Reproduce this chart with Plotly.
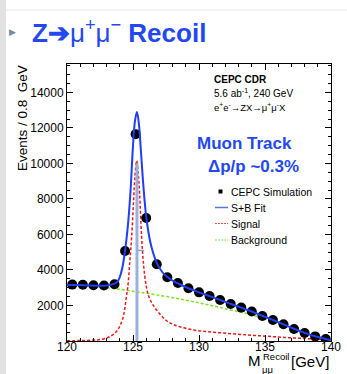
import plotly.graph_objects as go

# ---------------- data ----------------
bin_centers = [120.4, 121.2, 122.0, 122.8, 123.6, 124.4, 125.2, 126.0, 126.8, 127.6,
               128.4, 129.2, 130.0, 130.8, 131.6, 132.4, 133.2, 134.0, 134.8, 135.6,
               136.4, 137.2, 138.0, 138.8, 139.6]
events = [3175, 3170, 3140, 3130, 3200, 5070, 11650, 6930, 4320, 3590,
          3270, 2970, 2740, 2530, 2310, 2080, 1880, 1660, 1410, 1180,
          940, 680, 450, 260, 110]

fit_x = [120.0, 121.0, 122.0, 122.5, 123.0, 123.5, 123.8, 124.0, 124.2, 124.4,
         124.6, 124.8, 125.0, 125.15, 125.3, 125.45, 125.6, 125.8, 126.0, 126.2,
         126.4, 126.8, 127.2, 127.6, 128.0, 128.4, 129.2, 130.0, 130.8, 131.6,
         132.4, 133.2, 134.0, 134.8, 135.6, 136.4, 137.2, 138.0, 138.8, 139.6, 140.0]
fit_y = [3150, 3150, 3120, 3110, 3120, 3200, 3320, 3600, 4150, 5100,
         6400, 8300, 11000, 12400, 12900, 12200, 10700, 8600, 7000, 6000,
         5300, 4400, 3900, 3600, 3400, 3250, 2970, 2740, 2530, 2310,
         2090, 1880, 1660, 1420, 1180, 940, 690, 460, 270, 110, 40]

sig_x = [120.0, 121.0, 122.0, 122.5, 123.0, 123.3, 123.6, 123.9, 124.1, 124.3,
         124.5, 124.6, 124.75, 124.9, 125.05, 125.15, 125.28, 125.4, 125.5, 125.65,
         125.8, 126.0, 126.2, 126.5, 127.0, 127.5, 128.0, 128.6, 129.6, 130.5,
         131.5, 132.5, 133.5, 134.5, 135.5, 136.5, 137.5, 138.5, 139.5, 140.0]
sig_y = [15, 25, 50, 80, 170, 270, 420, 700, 1000, 1500,
         2500, 3000, 4400, 5900, 8000, 9300, 10150, 9400, 8300, 5900,
         4300, 3100, 2500, 2050, 1550, 1170, 950, 790, 620, 540,
         470, 410, 350, 300, 250, 200, 160, 120, 80, 60]

bkg_x = [120, 121, 122, 123, 124, 125, 126, 127, 128, 129, 130,
         131, 132, 133, 134, 135, 136, 137, 138, 139, 140]
bkg_y = [3150, 3120, 3070, 3000, 2910, 2800, 2690, 2570, 2440, 2300, 2150,
         1990, 1820, 1650, 1480, 1220, 1000, 760, 500, 260, 50]

higgs_mass = 125.3
higgs_line_top = 10000
err_tick_y = 5100
err_tick_x_end = 125.85

x_ticks = [120, 125, 130, 135, 140]
y_ticks = [2000, 4000, 6000, 8000, 10000, 12000, 14000]

# ---------------- figure ----------------
W, H = 347, 374
L, R, T, B = 67, 16, 64, 33
PW, PH = W - L - R, H - T - B

def px(x):
    return (x - L) / PW

def py(y):
    return (H - B - y) / PH

BLUE_TXT = "#2448f0"
FONT = "Liberation Sans, Arial, sans-serif"

fig = go.Figure()

fig.add_trace(go.Scatter(x=bkg_x, y=bkg_y, mode="lines", line_shape="spline",
                         line=dict(color="#7ee020", width=1.5, dash="3px,2px"),
                         showlegend=False, hoverinfo="skip"))
fig.add_trace(go.Scatter(x=sig_x, y=sig_y, mode="lines", line_shape="spline",
                         line=dict(color="#e51a1a", width=1.5, dash="3px,2px"),
                         showlegend=False, hoverinfo="skip"))
fig.add_trace(go.Scatter(x=[higgs_mass, higgs_mass], y=[0, higgs_line_top], mode="lines",
                         line=dict(color="#9cb0dc", width=3),
                         showlegend=False, hoverinfo="skip"))
fig.add_trace(go.Scatter(x=[higgs_mass, err_tick_x_end], y=[err_tick_y, err_tick_y], mode="lines",
                         line=dict(color="#8fa3cf", width=1.5),
                         showlegend=False, hoverinfo="skip"))
fig.add_trace(go.Scatter(x=bin_centers, y=events, mode="markers",
                         marker=dict(color="black", size=10),
                         showlegend=False))
fig.add_trace(go.Scatter(x=fit_x, y=fit_y, mode="lines", line_shape="spline",
                         line=dict(color="#1f3ff0", width=2),
                         showlegend=False, hoverinfo="skip"))

axis_common = dict(showline=True, linecolor="black", linewidth=1, mirror="ticks",
                   ticks="inside", ticklen=6, tickcolor="black", showgrid=False,
                   zeroline=False, tickfont=dict(family=FONT, size=12, color="black"))

fig.update_xaxes(range=[120, 140], tickvals=x_ticks, ticktext=[str(v) for v in x_ticks],
                 minor=dict(ticks="inside", ticklen=3, dtick=1, tickcolor="black"),
                 ticklabelstandoff=-5, **axis_common)
fig.update_yaxes(range=[0, 15600], tickvals=y_ticks, ticktext=[str(v) for v in y_ticks],
                 minor=dict(ticks="inside", ticklen=3, dtick=500, tickcolor="black"),
                 **axis_common)

ann = []
def text(x, y, s, size, color="black", bold=False, xanchor="left", angle=0, family=FONT):
    ann.append(dict(x=px(x), y=py(y), xref="paper", yref="paper", text=(f"<b>{s}</b>" if bold else s),
                    showarrow=False, xanchor=xanchor, yanchor="middle", textangle=angle,
                    font=dict(family=family, size=size, color=color)))

# title
text(12, 32, "▶", 9, color="#7a88aa", xanchor="center")
text(30, 31, "<b>Z➔</b>μ<sup>+</sup>μ<sup>−</sup><b> Recoil</b>", 26, color=BLUE_TXT)

# info text
text(212, 79, "CEPC CDR", 10, bold=True)
text(212, 93, "5.6 ab<sup>-1</sup>, 240 GeV", 10)
text(212, 107, "e<sup>+</sup>e<sup>-</sup>→ZX→μ<sup>+</sup>μ<sup>-</sup>X", 9.5)
text(244, 143, "Muon Track", 17, color=BLUE_TXT, bold=True, xanchor="center")
text(253, 166, "Δp/p ~0.3%", 17, color=BLUE_TXT, bold=True, xanchor="center")

# legend (manual)
leg_rows = [("CEPC Simulation", 191.5), ("S+B Fit", 207.5), ("Signal", 223.5), ("Background", 240)]
for label, yy in leg_rows:
    text(229, yy, label, 10.5)

shapes = []
shapes.append(dict(type="rect", xref="paper", yref="paper",
                   x0=px(218.5), x1=px(222.5), y0=py(193.5), y1=py(189.5),
                   fillcolor="black", line=dict(width=0)))
shapes.append(dict(type="line", xref="paper", yref="paper", x0=px(215), x1=px(228),
                   y0=py(207.5), y1=py(207.5), line=dict(color="#5a78d8", width=1.5)))
shapes.append(dict(type="line", xref="paper", yref="paper", x0=px(215), x1=px(228),
                   y0=py(223.5), y1=py(223.5), line=dict(color="#e05050", width=1, dash="2px,1px")))
shapes.append(dict(type="line", xref="paper", yref="paper", x0=px(215), x1=px(228),
                   y0=py(240), y1=py(240), line=dict(color="#80e040", width=1, dash="2px,1px")))
# slide decoration: left grey strip and top rule
shapes.append(dict(type="rect", xref="paper", yref="paper", x0=px(0), x1=px(6),
                   y0=py(374), y1=py(0), fillcolor="#e2e2e2", line=dict(width=0), layer="below"))
shapes.append(dict(type="line", xref="paper", yref="paper", x0=px(6), x1=px(347),
                   y0=py(10), y1=py(10), line=dict(color="#e6e6e6", width=1), layer="below"))

# axis titles
text(22, 118, "Events / 0.8  GeV", 13.5, xanchor="center", angle=-90)
text(254, 360.5, "M", 15, xanchor="center")
text(276, 356.5, "Recoil", 9.5, xanchor="center")
text(267, 369, "μμ", 9.5, xanchor="center")
text(310, 361, "[GeV]", 15, xanchor="center")

fig.update_layout(width=W, height=H, margin=dict(l=L, r=R, t=T, b=B, autoexpand=False),
                  paper_bgcolor="white", plot_bgcolor="white", showlegend=False,
                  annotations=ann, shapes=shapes, font=dict(family=FONT))

fig.write_html("out.html")
